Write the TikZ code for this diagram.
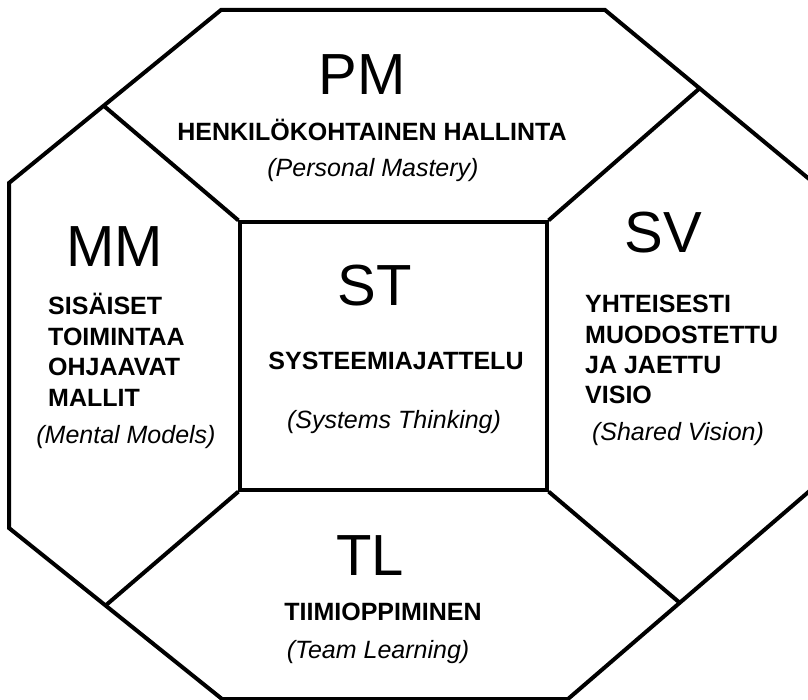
\documentclass[tikz,border=0pt]{standalone}
\usepackage{fontspec}
\setmainfont{Liberation Sans}
\begin{document}
\begin{tikzpicture}[x=1pt,y=-1pt,
  edge/.style={line width=4pt,line join=miter},
  inner/.style={line width=3.2pt},
  big/.style={inner sep=0pt,anchor=base,font=\fontsize{58}{60}\selectfont},
  head/.style={inner sep=0pt,anchor=base,font=\fontsize{25}{30}\selectfont\bfseries},
  sub/.style={inner sep=0pt,anchor=base,font=\fontsize{25}{30}\selectfont\itshape}]
\useasboundingbox (0,0) rectangle (808,700);
\fill[white] (0,0) rectangle (808,700);

% octagon corners (the right-hand side runs past the page edge)
\coordinate (t1) at (221,10);
\coordinate (t2) at (605,10);
\coordinate (r1) at (820,188);
\coordinate (r2) at (820,482);
\coordinate (b2) at (568,699);
\coordinate (b1) at (222,699);
\coordinate (l2) at (9,528);
\coordinate (l1) at (9,183);
\draw[edge] (t1) -- (t2) -- (r1) -- (r2) -- (b2) -- (b1) -- (l2) -- (l1) -- cycle;

% points where the spokes meet the slanted sides
\coordinate (j1) at (104,106);
\coordinate (j2) at (700,88);
\coordinate (j3) at (105,606);
\coordinate (j4) at (680,603);

% central square
\node[draw,inner,minimum width=307pt,minimum height=268pt,inner sep=0pt] (sq) at (393.5,356) {};
\draw[edge] (sq.north west) -- (j1);
\draw[edge] (sq.north east) -- (j2);
\draw[edge] (sq.south west) -- (j3);
\draw[edge] (sq.south east) -- (j4);

% top field
\node[big] (pm) at (362,95) {PM};
\node[head] (pmh) at (372,141) {HENKILÖKOHTAINEN HALLINTA};
\node[sub] (pms) at (373,177) {(Personal Mastery)};

% left field
\node[big,anchor=base west] (mm) at (66,267) {MM};
\node[head,anchor=base west] (mm1) at (48,315) {SISÄISET};
\node[head,anchor=base west] (mm2) at (48,345) {TOIMINTAA};
\node[head,anchor=base west] (mm3) at (48,375) {OHJAAVAT};
\node[head,anchor=base west] (mm4) at (48,406) {MALLIT};
\node[sub] (mms) at (126,443) {(Mental Models)};

% right field
\node[big] (sv) at (663,253) {SV};
\node[head,anchor=base west] (sv1) at (585,313) {YHTEISESTI};
\node[head,anchor=base west] (sv2) at (585,343) {MUODOSTETTU};
\node[head,anchor=base west] (sv3) at (585,373) {JA JAETTU};
\node[head,anchor=base west] (sv4) at (585,403) {VISIO};
\node[sub] (svs) at (678,440) {(Shared Vision)};

% centre
\node[big] (st) at (375,306) {ST};
\node[head] (sth) at (396,370) {SYSTEEMIAJATTELU};
\node[sub] (sts) at (394,428) {(Systems Thinking)};

% bottom field
\node[big] (tl) at (370,575) {TL};
\node[head] (tlh) at (383,620) {TIIMIOPPIMINEN};
\node[sub] (tls) at (378,658) {(Team Learning)};
\end{tikzpicture}
\end{document}
